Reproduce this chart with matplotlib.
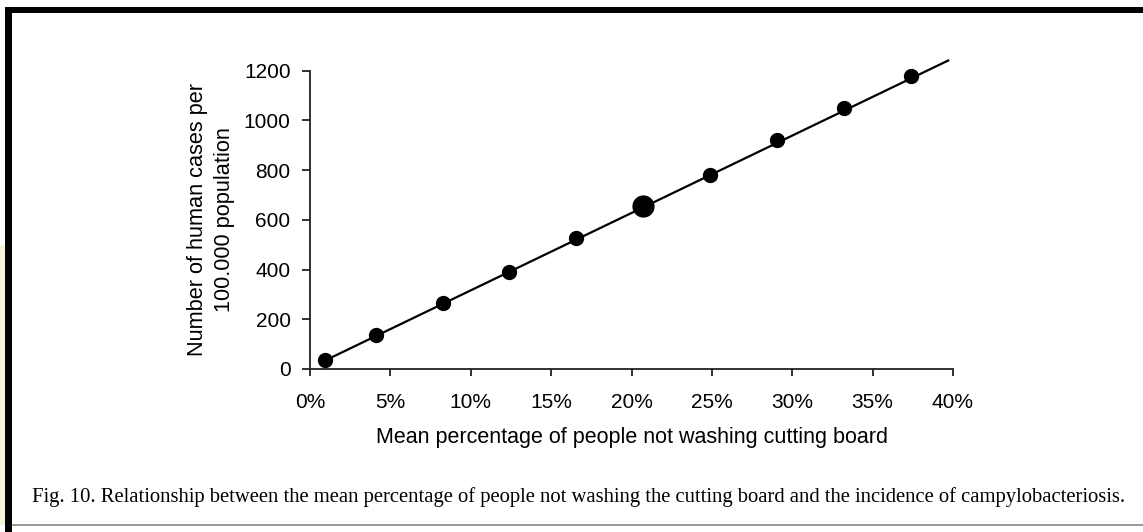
import matplotlib
matplotlib.use("Agg")
import matplotlib.pyplot as plt
from matplotlib.patches import Rectangle
from matplotlib.ticker import FuncFormatter

# mean % of people not washing the cutting board vs. cases per 100.000
pct_not_washing = [0.93, 4.08, 8.29, 12.39, 16.54, 20.69, 24.9, 29.08, 33.2, 37.37]
cases_per_100k = [36, 136, 265, 392, 526, 654, 781, 922, 1050, 1177]
mean_index = 5  # the baseline scenario, drawn larger

# fitted line endpoints
fit_x = [0.9, 39.7]
fit_y = [33, 1241]

x_ticks = [0, 5, 10, 15, 20, 25, 30, 35, 40]
y_ticks = [0, 200, 400, 600, 800, 1000, 1200]

W, H = 1143, 532
fig = plt.figure(figsize=(W / 100, H / 100), dpi=100)
fig.patch.set_facecolor("white")

# page frame from the scanned article
def px_rect(x0, y0, x1, y1, color):
    fig.patches.append(Rectangle((x0 / W, 1 - y1 / H), (x1 - x0) / W, (y1 - y0) / H,
                                 transform=fig.transFigure, color=color, lw=0, zorder=0))

px_rect(0, 245, 5, 525, "#f6f3d6")
px_rect(5, 7, W, 13, "black")
px_rect(5, 7, 12, H, "black")
px_rect(12, 524, W, 526, "#9a9a9a")

ax = fig.add_axes([310 / W, 1 - 369 / H, (953 - 310) / W, (369 - 70.7) / H])

ax.plot(fit_x, fit_y, color="black", lw=1.6, clip_on=False, zorder=2)
sizes = [15 if i == mean_index else 10 for i in range(len(pct_not_washing))]
for x, y, s in zip(pct_not_washing, cases_per_100k, sizes):
    ax.plot(x, y, "o", color="black", markersize=s, clip_on=False, zorder=3)

ax.set_xlim(0, 40)
ax.set_ylim(0, 1200)
ax.set_xticks(x_ticks)
ax.set_yticks(y_ticks)
ax.xaxis.set_major_formatter(FuncFormatter(lambda v, _: f"{v:.0f}%"))

for side in ("top", "right"):
    ax.spines[side].set_visible(False)
for side in ("left", "bottom"):
    ax.spines[side].set_linewidth(1.3)
    ax.spines[side].set_color("#222222")

sans = "Liberation Sans"
ax.tick_params(axis="x", direction="out", length=5, width=1.3, pad=12,
               labelsize=15, colors="#222222", labelcolor="black")
ax.tick_params(axis="y", direction="out", length=6, width=1.3, pad=8,
               labelsize=15, colors="#222222", labelcolor="black")
for lab in ax.get_xticklabels() + ax.get_yticklabels():
    lab.set_family(sans)

ax.set_xlabel("Mean percentage of people not washing cutting board",
              family=sans, fontsize=15.5, labelpad=11)
ax.set_ylabel("Number of human cases per\n100.000 population",
              family=sans, fontsize=15.7, labelpad=6, linespacing=1.4)

fig.text(32 / W, 1 - 497 / H,
         "Fig. 10. Relationship between the mean percentage of people not washing "
         "the cutting board and the incidence of campylobacteriosis.",
         family="Liberation Serif", fontsize=14.85, ha="left", va="center")

fig.savefig("out.png", dpi=100)
